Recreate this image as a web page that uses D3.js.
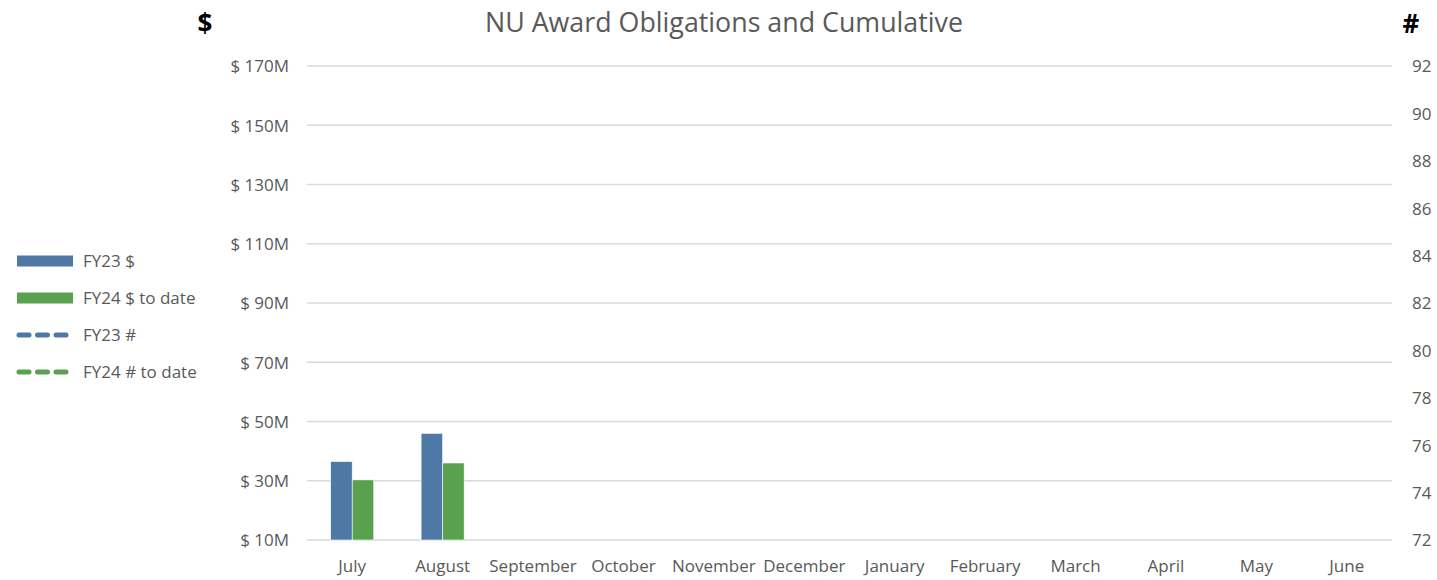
<!DOCTYPE html>
<html>
<head>
<meta charset="utf-8">
<script src="https://cdn.jsdelivr.net/npm/d3@7"></script>
<style>
  body { margin: 0; background: #fff; }
  svg { font-family: "Open Sans", sans-serif; }
</style>
</head>
<body>
<div id="chart"></div>
<script>
// data
const months = ["July", "August", "September", "October", "November", "December",
                "January", "February", "March", "April", "May", "June"];
const fy23Dollars = [36.5, 46, null, null, null, null, null, null, null, null, null, null]; // $M
const fy24Dollars = [30.3, 36, null, null, null, null, null, null, null, null, null, null];
const fy23Count = [null, null, null, null, null, null, null, null, null, null, null, null];
const fy24Count = [null, null, null, null, null, null, null, null, null, null, null, null];
const leftTicks = [10, 30, 50, 70, 90, 110, 130, 150, 170];
const rightTicks = [72, 74, 76, 78, 80, 82, 84, 86, 88, 90, 92];

const WIDTH = 1437, HEIGHT = 580;
const MARGINS = {left: 307, right: 45, top: 66, bottom: 40};
const BLUE = "#4e79a7", GREEN = "#59a14f";
const TEXT = "#595959";
const FONT_SIZE = "17px";

const svg = d3.select("#chart").append("svg")
    .attr("width", WIDTH).attr("height", HEIGHT);

const X = d3.scaleBand().domain(months)
    .range([MARGINS.left, WIDTH - MARGINS.right]);
const Y = d3.scaleLinear().domain([10, 170])
    .range([HEIGHT - MARGINS.bottom, MARGINS.top]);
const Y2 = d3.scaleLinear().domain([72, 92])
    .range([HEIGHT - MARGINS.bottom, MARGINS.top]);

// gridlines
svg.append("g").selectAll("line").data(leftTicks).enter().append("line")
    .attr("x1", MARGINS.left).attr("x2", WIDTH - MARGINS.right)
    .attr("y1", d => Y(d)).attr("y2", d => Y(d))
    .attr("stroke", "#d9d9d9").attr("stroke-width", 1.3);

// left axis
const leftAxis = svg.append("g")
    .attr("transform", "translate(" + (MARGINS.left - 15) + ",0)")
    .call(d3.axisLeft(Y).tickValues(leftTicks).tickSize(0).tickFormat(d => "$ " + d + "M"));
leftAxis.select(".domain").remove();
leftAxis.selectAll("text").attr("font-size", FONT_SIZE).attr("fill", TEXT)
    .attr("font-family", "Open Sans, sans-serif").attr("dy", "0.35em");

// right axis
const rightAxis = svg.append("g")
    .attr("transform", "translate(" + (WIDTH - MARGINS.right + 17) + ",0)")
    .call(d3.axisRight(Y2).tickValues(rightTicks).tickSize(0));
rightAxis.select(".domain").remove();
rightAxis.selectAll("text").attr("font-size", FONT_SIZE).attr("fill", TEXT)
    .attr("font-family", "Open Sans, sans-serif").attr("dy", "0.35em");

// bottom axis
const bottomAxis = svg.append("g")
    .attr("transform", "translate(0," + (HEIGHT - MARGINS.bottom + 14) + ")")
    .call(d3.axisBottom(X).tickSize(0));
bottomAxis.select(".domain").remove();
bottomAxis.selectAll("text").attr("font-size", FONT_SIZE).attr("fill", TEXT)
    .attr("font-family", "Open Sans, sans-serif").attr("dy", "0.88em");

// bars
const X_SUB = d3.scaleBand().domain(["fy23", "fy24"])
    .range([0, X.bandwidth()]).paddingInner(0).paddingOuter(1.1);
const barData = [];
months.forEach((m, i) => {
    barData.push({month: m, key: "fy23", value: fy23Dollars[i], color: BLUE});
    barData.push({month: m, key: "fy24", value: fy24Dollars[i], color: GREEN});
});
svg.append("g").selectAll("rect")
    .data(barData.filter(d => d.value != null))
    .enter().append("rect")
    .attr("x", d => X(d.month) + X_SUB(d.key))
    .attr("width", X_SUB.bandwidth())
    .attr("y", d => Y(d.value))
    .attr("height", d => Y(10) - Y(d.value))
    .attr("fill", d => d.color)
    .attr("stroke", "#fff").attr("stroke-width", 0.6);

// count lines (right axis)
const line = d3.line()
    .defined(d => d.value != null)
    .x(d => X(d.month) + X.bandwidth() / 2)
    .y(d => Y2(d.value));
[[fy23Count, BLUE], [fy24Count, GREEN]].forEach(([arr, color]) => {
    svg.append("path")
        .datum(months.map((m, i) => ({month: m, value: arr[i]})))
        .attr("d", line).attr("fill", "none")
        .attr("stroke", color).attr("stroke-width", 4)
        .attr("stroke-dasharray", "12,7").attr("stroke-linecap", "round");
});

// title and axis captions
svg.append("text").attr("x", 724).attr("y", 32).attr("text-anchor", "middle")
    .attr("font-size", "26.8px").attr("fill", TEXT).text("NU Award Obligations and Cumulative");
svg.append("text").attr("x", 205).attr("y", 33).attr("text-anchor", "middle")
    .attr("font-size", "26px").attr("font-weight", "bold").attr("fill", "#000").text("$");
svg.append("text").attr("x", 1411).attr("y", 33).attr("text-anchor", "middle")
    .attr("font-size", "26px").attr("font-weight", "bold").attr("fill", "#000").text("#");

// legend
const legendItems = [
    {label: "FY23 $", color: BLUE, type: "bar"},
    {label: "FY24 $ to date", color: GREEN, type: "bar"},
    {label: "FY23 #", color: BLUE, type: "line"},
    {label: "FY24 # to date", color: GREEN, type: "line"}
];
const legend = svg.append("g");
legendItems.forEach((d, i) => {
    const y = 261 + i * 37;
    if (d.type === "bar") {
        legend.append("rect").attr("x", 17).attr("y", y - 5.5)
            .attr("width", 56).attr("height", 11).attr("fill", d.color);
    } else {
        legend.append("line").attr("x1", 19).attr("x2", 66).attr("y1", y).attr("y2", y)
            .attr("stroke", d.color).attr("stroke-width", 5)
            .attr("stroke-dasharray", "10,8.5").attr("stroke-linecap", "round");
    }
    legend.append("text").attr("x", 83).attr("y", y).attr("dy", "0.35em")
        .attr("font-size", FONT_SIZE).attr("fill", TEXT).text(d.label);
});
</script>
</body>
</html>
